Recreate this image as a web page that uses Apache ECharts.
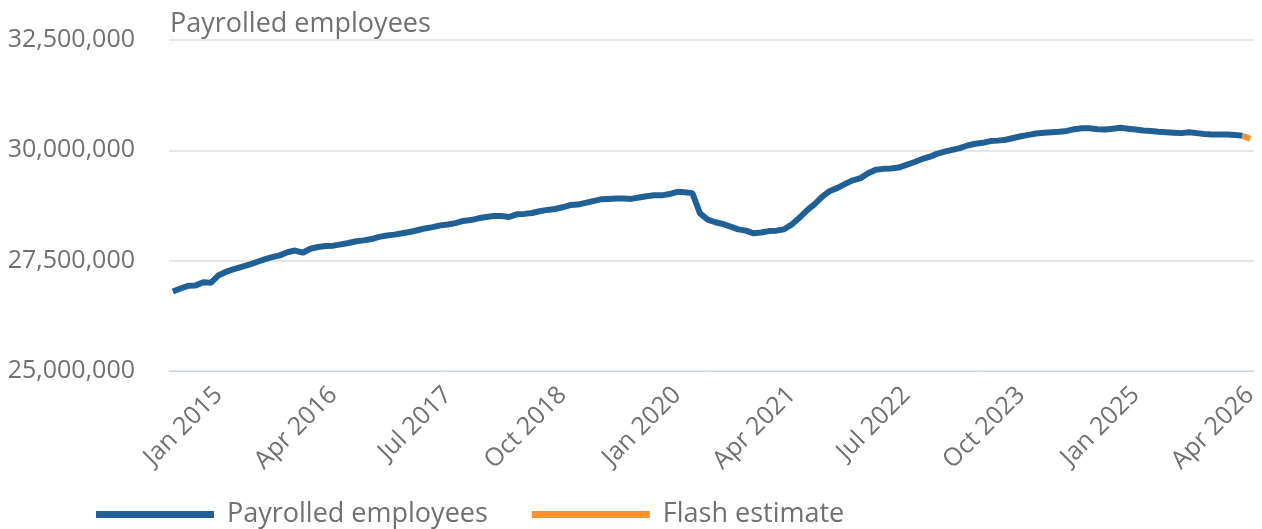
<!DOCTYPE html>
<html>
<head>
<meta charset="utf-8">
<script src="https://cdn.jsdelivr.net/npm/echarts@6/dist/echarts.min.js"></script>
<style>
  html, body { margin: 0; padding: 0; background: #fff; }
  #chart { width: 1262px; height: 529px; }
</style>
</head>
<body>
<div id="chart"></div>
<script>
// months Jul 2014 .. Apr 2026
const monthNames = ['Jan', 'Feb', 'Mar', 'Apr', 'May', 'Jun', 'Jul', 'Aug', 'Sep', 'Oct', 'Nov', 'Dec'];
const tickLabels = ['Jan 2015', 'Apr 2016', 'Jul 2017', 'Oct 2018', 'Jan 2020', 'Apr 2021', 'Jul 2022', 'Oct 2023', 'Jan 2025', 'Apr 2026'];
const yTicks = [25000000, 27500000, 30000000, 32500000];

// payrolled employees
const payrolled = [
    26800000, 26870000, 26930000, 26940000, 27010000, 27000000,
    27170000, 27250000, 27310000, 27360000, 27410000, 27470000, 27530000, 27580000, 27620000, 27690000, 27730000, 27680000,
    27770000, 27810000, 27830000, 27840000, 27870000, 27900000, 27940000, 27960000, 27990000, 28040000, 28070000, 28090000,
    28120000, 28150000, 28190000, 28230000, 28260000, 28300000, 28320000, 28350000, 28400000, 28420000, 28460000, 28490000,
    28510000, 28510000, 28490000, 28550000, 28560000, 28580000, 28620000, 28650000, 28670000, 28710000, 28760000, 28770000,
    28810000, 28850000, 28890000, 28900000, 28910000, 28910000, 28900000, 28930000, 28960000, 28980000, 28980000, 29010000,
    29060000, 29050000, 29030000, 28570000, 28430000, 28370000, 28330000, 28270000, 28210000, 28180000, 28120000, 28140000,
    28170000, 28180000, 28210000, 28320000, 28470000, 28640000, 28780000, 28950000, 29080000, 29150000, 29240000, 29320000,
    29370000, 29480000, 29560000, 29580000, 29590000, 29610000, 29670000, 29730000, 29800000, 29850000, 29920000, 29970000,
    30010000, 30050000, 30110000, 30150000, 30170000, 30210000, 30220000, 30240000, 30280000, 30320000, 30350000, 30380000,
    30400000, 30410000, 30420000, 30440000, 30480000, 30500000, 30500000, 30480000, 30470000, 30490000, 30510000, 30490000,
    30470000, 30450000, 30440000, 30420000, 30410000, 30400000, 30390000, 30410000, 30390000, 30370000, 30360000, 30360000,
    30360000, 30350000, 30330000, null
];
// flash estimate: last two months
const flash = { 'Mar 2026': 30330000, 'Apr 2026': 30260000 };

const months = [];
for (let y = 2014; y <= 2026; y++) {
    for (let m = 0; m < 12; m++) {
        if (y === 2014 && m < 6) continue;
        if (y === 2026 && m > 3) break;
        months.push(monthNames[m] + ' ' + y);
    }
}
const flashData = months.map(c => (c in flash ? flash[c] : null));

const grey = '#707070';
const font = "'Open Sans', 'Noto Sans', sans-serif";
const isTick = (idx) => tickLabels.includes(months[idx]);

const chart = echarts.init(document.getElementById('chart'));
chart.setOption({
    animation: false,
    title: {
        text: 'Payrolled employees',
        left: 165,
        top: 6,
        textStyle: { color: grey, fontSize: 27, fontWeight: 'normal', fontFamily: font }
    },
    legend: {
        left: 91,
        top: 496,
        itemWidth: 118,
        itemHeight: 7,
        itemGap: 44,
        icon: 'rect',
        textStyle: { color: grey, fontSize: 27, fontFamily: font, padding: [0, 0, 0, 8] },
        data: ['Payrolled employees', 'Flash estimate']
    },
    grid: { left: 169, right: 8, top: 40, bottom: 158, containLabel: false },
    xAxis: {
        type: 'category',
        data: months,
        boundaryGap: true,
        axisLine: { lineStyle: { color: '#ccd6eb', width: 1 } },
        axisTick: { alignWithLabel: true, interval: isTick, length: 16, lineStyle: { color: '#ccd6eb' } },
        axisLabel: {
            interval: isTick,
            rotate: 45,
            color: grey,
            fontSize: 25,
            fontFamily: font,
            margin: 20
        }
    },
    yAxis: {
        type: 'value',
        min: yTicks[0],
        max: yTicks[yTicks.length - 1],
        interval: 2500000,
        axisLine: { show: false },
        axisTick: { show: false },
        splitLine: { lineStyle: { color: '#e6e6e6', width: 2 } },
        axisLabel: {
            color: grey,
            fontSize: 25,
            fontFamily: font,
            margin: 34,
            formatter: v => v.toLocaleString('en-GB')
        }
    },
    series: [
        {
            name: 'Payrolled employees',
            type: 'line',
            data: payrolled,
            showSymbol: false,
            color: '#206095',
            lineStyle: { width: 6, color: '#206095' }
        },
        {
            name: 'Flash estimate',
            type: 'line',
            data: flashData,
            showSymbol: false,
            color: '#f39431',
            lineStyle: { width: 6, color: '#f39431' }
        }
    ]
});
</script>
</body>
</html>
